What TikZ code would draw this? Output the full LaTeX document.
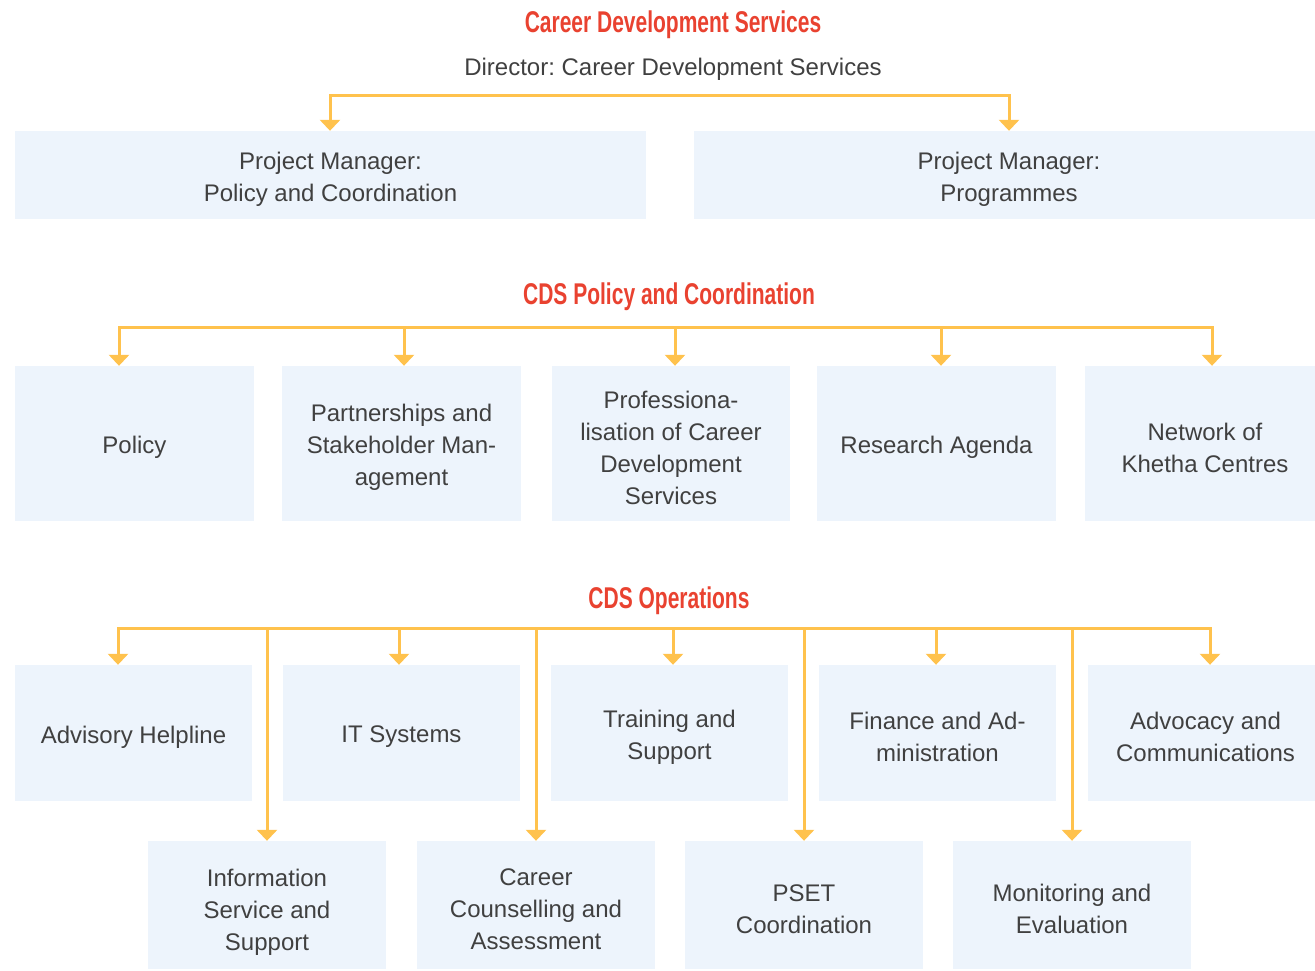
\documentclass[tikz,border=0pt]{standalone}
\usepackage{fontspec}
\setmainfont{Liberation Sans}
\newfontfamily\headfont[FakeStretch=0.7]{Liberation Sans Bold}
\usetikzlibrary{arrows.meta}
\definecolor{headred}{RGB}{233,66,48}
\definecolor{boxfill}{RGB}{237,244,252}
\definecolor{linkcol}{RGB}{255,194,77}
\definecolor{txt}{RGB}{64,64,64}
\frenchspacing
\begin{document}
\begin{tikzpicture}[x=1pt,y=-1pt,
  heading/.style={font=\headfont\fontsize{30}{30}\selectfont, text=headred},
  subhead/.style={font=\fontsize{24}{32}\selectfont, text=txt},
  unit/.style={fill=boxfill, draw=none, inner sep=0pt},
  unittext/.style={align=center, inner sep=0pt, yshift=-4pt,
    font=\fontsize{24}{32}\selectfont, text=txt},
  link/.style={draw=linkcol, line width=3pt, line join=miter,
    arrows={-Triangle[width=20pt,length=11pt]}},
  blink/.style={link, arrows={Triangle[width=20pt,length=11pt]-Triangle[width=20pt,length=11pt]}}]
\useasboundingbox (0,0) rectangle (1315,970);

% headings
\node[heading] (hcds) at (673,25) {Career Development Services};
\node[subhead] (dir) at (673,69) {Director: Career Development Services};
\node[heading] (hpol) at (669,297) {CDS Policy and Coordination};
\node[heading] (hops) at (669,601) {CDS Operations};

% project managers
\node[unit, minimum width=631pt, minimum height=88pt,
  label={[unittext]center:{Project Manager:\\Policy and Coordination}}] (pm1) at (330.5,175) {};
\node[unit, minimum width=621pt, minimum height=88pt,
  label={[unittext, xshift=4.5pt]center:{Project Manager:\\Programmes}}] (pm2) at (1004.5,175) {};

% policy and coordination units
\begin{scope}[every node/.append style={minimum height=155pt}]
\node[unit, minimum width=239pt, label={[unittext]center:{Policy}}] (pol) at (134.5,443.5) {};
\node[unit, minimum width=239pt, label={[unittext]center:{Partnerships and\\Stakeholder Man-\\agement}}] (part) at (401.5,443.5) {};
\node[unit, minimum width=238pt, label={[unittext]center:{Professiona-\\lisation of Career\\Development\\Services}}] (prof) at (671,443.5) {};
\node[unit, minimum width=239pt, label={[unittext]center:{Research Agenda}}] (res) at (936.5,443.5) {};
\node[unit, minimum width=230pt, label={[unittext, xshift=5pt]center:{Network of\\Khetha Centres}}] (net) at (1200,443.5) {};
\end{scope}

% operations units, upper row
\begin{scope}[every node/.append style={minimum height=136pt}]
\node[unit, minimum width=237pt, label={[unittext]center:{Advisory Helpline}}] (adv) at (133.5,733) {};
\node[unit, minimum width=237pt, label={[unittext]center:{IT Systems}}] (its) at (401.5,733) {};
\node[unit, minimum width=237pt, label={[unittext]center:{Training and\\Support}}] (trn) at (669.5,733) {};
\node[unit, minimum width=237pt, label={[unittext]center:{Finance and Ad-\\ministration}}] (fin) at (937.5,733) {};
\node[unit, minimum width=227pt, label={[unittext, xshift=4pt]center:{Advocacy and\\Communications}}] (advo) at (1201.5,733) {};
\end{scope}

% operations units, lower row
\begin{scope}[every node/.append style={minimum height=128pt, minimum width=238pt}]
\node[unit, label={[unittext, yshift=-3pt]center:{Information\\Service and\\Support}}] (info) at (267,905) {};
\node[unit, label={[unittext]center:{Career\\Counselling and\\Assessment}}] (ccas) at (536,905) {};
\node[unit, label={[unittext]center:{PSET\\Coordination}}] (pset) at (804,905) {};
\node[unit, label={[unittext]center:{Monitoring and\\Evaluation}}] (mon) at (1072,905) {};
\end{scope}

% bus points
\coordinate (a1) at (330,95);
\coordinate (a2) at (1009,95);
\coordinate (b1) at (119,327);
\coordinate (b2) at (404,327);
\coordinate (b3) at (675,327);
\coordinate (b4) at (941,327);
\coordinate (b5) at (1212,327);
\coordinate (c1) at (118,628);
\coordinate (c2) at (267,628);
\coordinate (c3) at (399,628);
\coordinate (c4) at (536,628);
\coordinate (c5) at (673,628);
\coordinate (c6) at (804,628);
\coordinate (c7) at (936,628);
\coordinate (c8) at (1072,628);
\coordinate (c9) at (1210,628);

% director to project managers
\draw[blink] (a1 |- pm1.north) -- (a1) -- (a2) -- (a2 |- pm2.north);

% policy and coordination links
\draw[blink] (b1 |- pol.north) -- (b1) -- (b5) -- (b5 |- net.north);
\draw[link] (b2) -- (b2 |- part.north);
\draw[link] (b3) -- (b3 |- prof.north);
\draw[link] (b4) -- (b4 |- res.north);

% operations links
\draw[blink] (c1 |- adv.north) -- (c1) -- (c9) -- (c9 |- advo.north);
\draw[link] (c3) -- (c3 |- its.north);
\draw[link] (c5) -- (c5 |- trn.north);
\draw[link] (c7) -- (c7 |- fin.north);
\draw[link] (c2) -- (c2 |- info.north);
\draw[link] (c4) -- (c4 |- ccas.north);
\draw[link] (c6) -- (c6 |- pset.north);
\draw[link] (c8) -- (c8 |- mon.north);
\end{tikzpicture}
\end{document}
